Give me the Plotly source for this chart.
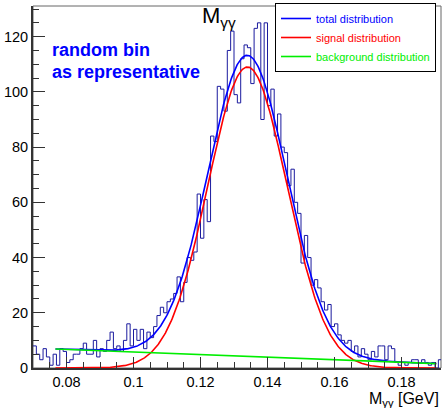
import numpy as np
import plotly.graph_objects as go

# ---- data ----
bin_low = 0.070
bin_width = 0.001
counts = [8, 5, 3, 7, 4, 1, 5, 1, 7, 6,
          2, 3, 5, 5, 7, 9, 5, 5, 10, 4,
          7, 6, 10, 13, 7, 8, 6, 10, 16, 8,
          14, 10, 14, 7, 13, 11, 15, 19, 22, 20,
          24, 25, 27, 33, 24, 31, 40, 39, 42, 63,
          47, 61, 53, 84, 82, 102, 101, 93, 115, 122,
          99, 96, 112, 117, 116, 103, 123, 125, 90, 125,
          95, 101, 84, 92, 80, 78, 66, 72, 60, 56,
          38, 48, 40, 30, 32, 29, 24, 21, 23, 15,
          16, 12, 10, 9, 10, 6, 8, 4, 7, 5,
          3, 6, 4, 8, 8, 3, 8, 7, 2, 1,
          2, 1, 2, 3, 3, 2, 3, 2, 1, 2,
          0, 3]

x_range = [0.070, 0.19179]
y_range = [0, 131.1]
x_ticks = [0.08, 0.10, 0.12, 0.14, 0.16, 0.18]
x_tick_text = ["0.08", "0.1", "0.12", "0.14", "0.16", "0.18"]
y_ticks = [0, 20, 40, 60, 80, 100, 120]

# fit parameters
sig_amp, sig_mean, sig_sigma = 109.0, 0.1340, 0.0118
bg_at_lo, bg_slope = 6.9, -46.6
fit_lo, fit_hi = 0.0767, 0.1904

legend_names = ["total distribution", "signal distribution", "background distribution"]
legend_colors = ["#0000ff", "#ff0000", "#00ee00"]

# ---- build ----
edges = bin_low + bin_width * np.arange(len(counts) + 1)
steps = counts + [counts[-1]]

xf = np.linspace(fit_lo, fit_hi, 500)
sig = sig_amp * np.exp(-0.5 * ((xf - sig_mean) / sig_sigma) ** 2)
bg = bg_at_lo + bg_slope * (xf - fit_lo)
tot = sig + bg

fig = go.Figure()
fig.add_trace(go.Scatter(x=edges, y=steps, mode="lines", line_shape="hv",
                         line=dict(color="#1a1a9e", width=1), showlegend=False,
                         hoverinfo="skip"))
for name, col, yv in zip(legend_names, legend_colors, [tot, sig, bg]):
    fig.add_trace(go.Scatter(x=xf, y=yv, mode="lines", line=dict(color=col, width=1.6),
                             name=f"<span style='color:{col}'>{name}</span>",
                             legendgroup=name))

font_family = "Liberation Sans, Arial, sans-serif"
axis_common = dict(showgrid=False, zeroline=False, ticks="inside", showline=True,
                   linecolor="#333333", linewidth=2, tickcolor="#333333",
                   tickfont=dict(family=font_family, size=14.5, color="black"))
fig.update_xaxes(range=x_range, tickvals=x_ticks, ticktext=x_tick_text, ticklen=11,
                 minor=dict(dtick=0.005, tick0=0.08, ticklen=6, ticks="inside", tickcolor="#333333"),
                 **axis_common)
fig.update_yaxes(range=y_range, tickvals=y_ticks, ticklen=12,
                 minor=dict(dtick=5, tick0=0, ticklen=6, ticks="inside", tickcolor="#333333"),
                 **axis_common)

fig.add_shape(type="rect", xref="paper", yref="paper", x0=0, x1=1, y0=0, y1=1,
              line=dict(color="#666666", width=1), layer="below")

def py(p):
    return (368 - p) / 362.0

def px(p):
    return (p - 33) / 408.0

fig.add_annotation(x=px(200), y=py(17), xref="paper", yref="paper", xanchor="left", yanchor="middle",
                   text="M<sub>γγ</sub>", showarrow=False,
                   font=dict(family=font_family, size=22, color="black"))
fig.add_annotation(x=px(50), y=py(50), xref="paper", yref="paper", xanchor="left", yanchor="middle",
                   text="<b>random bin</b>", showarrow=False,
                   font=dict(family=font_family, size=18, color="#0000ff"))
fig.add_annotation(x=px(50), y=py(71.5), xref="paper", yref="paper", xanchor="left", yanchor="middle",
                   text="<b>as representative</b>", showarrow=False,
                   font=dict(family=font_family, size=18, color="#0000ff"))
fig.add_annotation(x=px(441), y=py(399), xref="paper", yref="paper", xanchor="right", yanchor="middle",
                   text="M<sub>γγ</sub> [GeV]", showarrow=False,
                   font=dict(family=font_family, size=16, color="black"))

fig.update_layout(
    width=444, height=408,
    margin=dict(l=33, r=3, t=6, b=40),
    paper_bgcolor="white", plot_bgcolor="white",
    legend=dict(x=px(275), y=py(3), xanchor="left", yanchor="top",
                bgcolor="white", bordercolor="black", borderwidth=1,
                font=dict(family=font_family, size=11), tracegroupgap=2,
                traceorder="normal"),
)

fig.write_html("out.html")
